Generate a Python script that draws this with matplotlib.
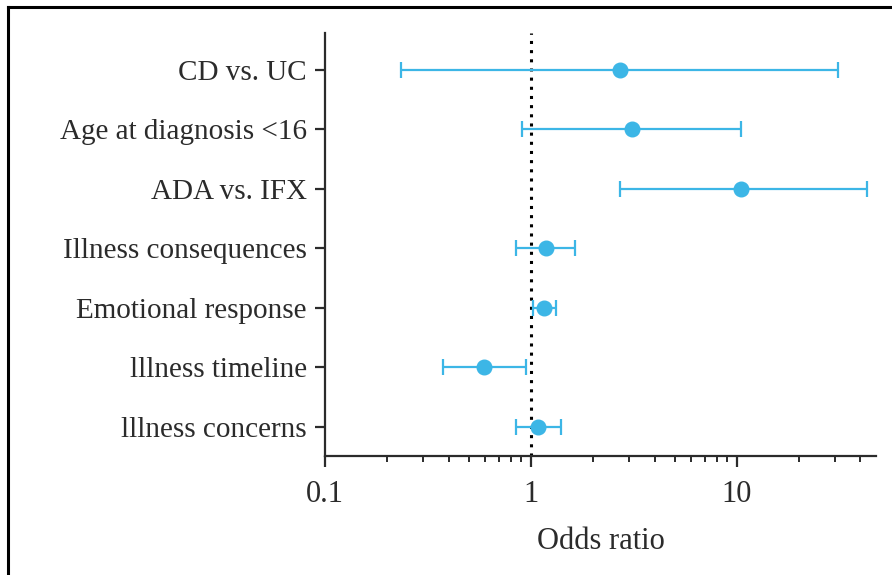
import matplotlib
matplotlib.use("Agg")
import matplotlib.pyplot as plt
from matplotlib.lines import Line2D
from matplotlib.ticker import LogLocator, NullFormatter, FixedLocator, FixedFormatter

# 변수 및 오즈비 (95% CI)
labels = ["CD vs. UC", "Age at diagnosis <16", "ADA vs. IFX",
          "Illness consequences", "Emotional response",
          "lllness timeline", "lllness concerns"]
odds = [2.70, 3.11, 10.5, 1.18, 1.16, 0.594, 1.08]
lower = [0.233, 0.91, 2.72, 0.85, 1.02, 0.376, 0.85]
upper = [31.0, 10.5, 42.8, 1.64, 1.33, 0.95, 1.40]

plt.rcParams['font.family'] = ['Liberation Serif', 'DejaVu Serif']
blue = '#3cb6e6'
dark = '#2b2b2b'

fig = plt.figure(figsize=(8.92, 5.75), dpi=100)
ax = fig.add_axes([325 / 892, 1 - 456 / 575, 551 / 892, 423 / 575])

ypos = list(range(len(labels)))
err = [[o - l for o, l in zip(odds, lower)], [u - o for o, u in zip(odds, upper)]]
ax.errorbar(odds, ypos, xerr=err, fmt='o', color=blue, ecolor=blue,
            markersize=10.5, elinewidth=1.6, capsize=6, capthick=1.6, zorder=3)
ax.axvline(1, color='black', linestyle=(0, (1, 2)), linewidth=2.2, zorder=2)

ax.set_xscale('log')
ax.set_xlim(0.1, 47.6)
ax.set_ylim(len(labels) - 1 + 0.49, -0.62)
ax.xaxis.set_major_locator(FixedLocator([0.1, 1, 10]))
ax.xaxis.set_major_formatter(FixedFormatter(['0.1', '1', '10']))
ax.xaxis.set_minor_locator(LogLocator(base=10, subs=range(2, 10)))
ax.xaxis.set_minor_formatter(NullFormatter())
ax.set_yticks(ypos)
ax.set_yticklabels(labels)

for side in ['top', 'right']:
    ax.spines[side].set_visible(False)
for side in ['left', 'bottom']:
    ax.spines[side].set_linewidth(1.6)
    ax.spines[side].set_color(dark)

ax.tick_params(axis='y', length=7, width=1.6, color=dark, labelsize=21, pad=6)
ax.tick_params(axis='x', which='major', length=8, width=1.6, color=dark,
               labelsize=22, pad=9)
ax.tick_params(axis='x', which='minor', length=4, width=1.4, color=dark)
ax.set_xlabel("Odds ratio", fontsize=22, labelpad=13, color=dark)
for t in ax.get_xticklabels() + ax.get_yticklabels():
    t.set_color(dark)

# 테두리 (위, 왼쪽)
fig.add_artist(Line2D([8 / 892, 1], [1 - 7 / 575, 1 - 7 / 575], color='black', linewidth=2.2))
fig.add_artist(Line2D([8 / 892, 8 / 892], [0, 1 - 7 / 575], color='black', linewidth=2.2))

fig.savefig("out.png", dpi=100)
